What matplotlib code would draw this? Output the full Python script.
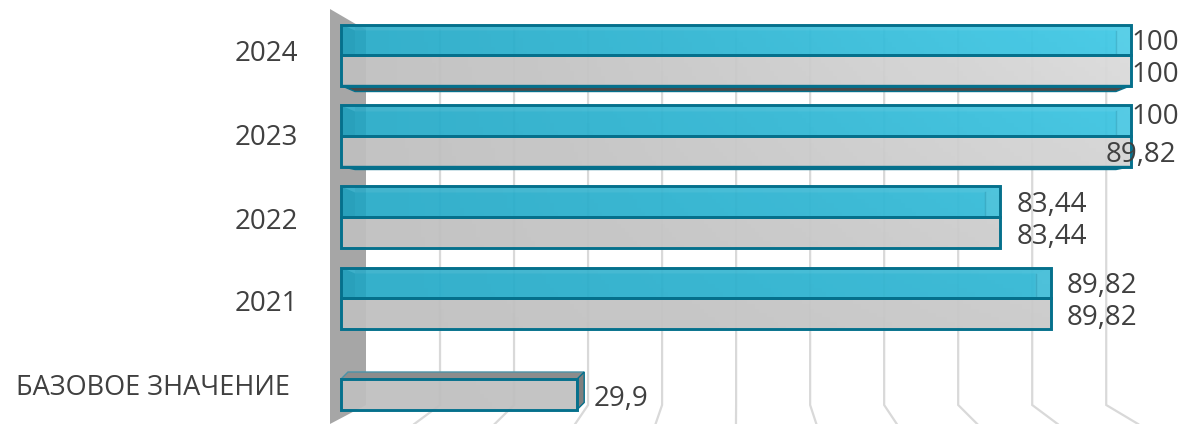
import numpy as np
from matplotlib import pyplot as plt
from matplotlib.colors import LinearSegmentedColormap
from matplotlib.patches import Polygon

categories = ['БАЗОВОЕ ЗНАЧЕНИЕ', '2021', '2022', '2023', '2024']
teal_values = [None, 89.82, 83.44, 100, 100]
gray_values = [29.9, 89.82, 83.44, 100, 100]
teal_labels = [None, '89,82', '83,44', '100', '100']
gray_labels = ['29,9', '89,82', '83,44', '89,82', '100']
grid_ticks = list(range(0, 101, 10))

plt.rcParams['font.family'] = ['Open Sans', 'DejaVu Sans']

WIDTH, HEIGHT = 1179, 424
PX = 100 / 790  # data units per pixel, x
PY = 1 / 81  # data units per pixel, y
BORDER = '#05708c'
TEXT = '#404040'

fig = plt.figure(figsize=(WIDTH / 100, HEIGHT / 100), dpi=100)
ax = fig.add_axes([0, 0, 1, 1])
ax.axis('off')
xlim = (-341 * PX, (WIDTH - 341) * PX)
ylim = ((379 - HEIGHT) * PY, 379 * PY)

# back wall and perspective grid
wall_bottom = -26 * PY
wall_top = 349 * PY
ax.add_patch(Polygon([(-11 * PX, ylim[0]), (25 * PX, wall_bottom), (25 * PX, wall_top),
                      (-11 * PX, 370 * PY)], color='#a6a6a6', lw=0, zorder=2))
for tick in grid_ticks[1:]:
    back = 25 * PX + tick * 0.937
    floor = back + (tick * 0.063 - 25 * PX) * 18 / 14
    ax.plot([back, back, floor], [wall_top, wall_bottom, ylim[0]], color='#d9d9d9',
            lw=1.6, zorder=1, solid_joinstyle='miter')

y = np.arange(len(categories))
height = 30.5 * PY
teal_y = [i + height / 2 for i, v in enumerate(teal_values) if v is not None]
teal_x = [v for v in teal_values if v is not None]
gray_y = y - height / 2

# bars are drawn by barh, then filled with the diagonal gradient
teal_bars = ax.barh(teal_y, teal_x, height=height, facecolor='none', edgecolor=BORDER,
                    lw=2.1, zorder=6)
gray_bars = ax.barh(gray_y, gray_values, height=height, facecolor='none', edgecolor=BORDER,
                    lw=2.1, zorder=6)

gx, gy = np.meshgrid(np.linspace(0, 1, 300), np.linspace(0, 1, 100))
shade = (np.clip((gx - 0.29) / 0.67, 0, 1) * (0.3 + 0.7 * gy)) ** 1.2
teal_map = LinearSegmentedColormap.from_list('teal', ['#27abc8', '#42cbe8'])
gray_map = LinearSegmentedColormap.from_list('gray', ['#bfbfbf', '#dedede'])
for bars, cmap in ((teal_bars, teal_map), (gray_bars, gray_map)):
    for bar in bars:
        im = ax.imshow(shade, cmap=cmap, origin='lower', aspect='auto', alpha=0.94,
                       extent=(xlim[0], xlim[1], ylim[0], ylim[1]), zorder=4)
        im.set_clip_path(bar)

# 3d details on the teal bars
for bar in teal_bars:
    left, bottom = bar.get_x(), bar.get_y()
    right, top = left + bar.get_width(), bottom + bar.get_height()
    inner = top - 6 * PY
    ax.add_patch(Polygon([(left, top), (right, top), (right - 15 * PX, inner), (left + 14 * PX, inner)],
                         color='white', alpha=0.07, lw=0, zorder=5))
    ax.add_patch(Polygon([(left, top), (left + 14 * PX, inner), (left + 14 * PX, bottom), (left, bottom)],
                         color='#0b6f8a', alpha=0.16, lw=0, zorder=5))
    ax.fill_between([left + 14 * PX, left + 25 * PX], bottom, top, color='#0b6f8a', alpha=0.07,
                    lw=0, zorder=5)
    ax.add_patch(Polygon([(right, top), (right - 15 * PX, inner), (right - 15 * PX, bottom), (right, bottom)],
                         color='white', alpha=0.08, lw=0, zorder=5))
    ax.plot([right - 15 * PX] * 2, [bottom, inner], color='#0b6f8a', alpha=0.25, lw=1, zorder=5)

# underside of the gray bars, only the top ones show it
for i, bar in enumerate(gray_bars):
    left, bottom = bar.get_x(), bar.get_y()
    right = left + bar.get_width()
    top = bottom + bar.get_height()
    if teal_values[i] is None:
        # base bar is seen from above
        ax.add_patch(Polygon([(left, top), (left + 7 * PX, top + 7 * PY), (right + 7 * PX, top + 7 * PY),
                              (right, top)], fc='#8c8c8c', ec='#4a93a8', lw=1, zorder=5))
        ax.add_patch(Polygon([(right, top), (right + 7 * PX, top + 7 * PY), (right + 7 * PX, bottom + 7 * PY),
                              (right, bottom)], fc='#7f7f7f', ec=BORDER, lw=1, zorder=5))
    elif i >= 3:
        depth = 6 if categories[i] == '2024' else 3
        ax.add_patch(Polygon([(left, bottom), (left + 14 * PX, bottom - depth * PY),
                              (right - 15 * PX, bottom - depth * PY), (right, bottom)],
                             fc='#4a4a4a', ec=BORDER, lw=1, zorder=5))

ax.set_xlim(xlim)
ax.set_ylim(ylim)

# category labels, spacing in the picture is not quite even
label_shift = [-9, -6, -5, -2, 1]
for i, name in enumerate(categories):
    if i == 0:
        ax.text(-51 * PX, i + label_shift[i] * PY, name, ha='right', va='center', fontsize=19.5,
                color=TEXT, zorder=8)
    else:
        ax.text(-43 * PX, i + label_shift[i] * PY, name, ha='right', va='center', fontsize=20,
                color=TEXT, zorder=8)

# value labels
for i, (label, value) in enumerate(zip(teal_labels, teal_values)):
    if label is None:
        continue
    off = 0 if value == 100 else 16
    dy = 4 if categories[i] == '2023' else -3
    ax.text(value + off * PX, i + height / 2 + dy * PY, label, ha='left', va='center',
            fontsize=20, color=TEXT, zorder=8)
for i, (label, value) in enumerate(zip(gray_labels, gray_values)):
    if categories[i] == '2023':
        ax.text(value + 45 * PX, i - height / 2 - 4 * PY, label, ha='right', va='center',
                fontsize=20, color=TEXT, zorder=8)
    else:
        off = 0 if value == 100 else 16
        ax.text(value + off * PX, i - height / 2 - 5 * PY, label, ha='left', va='center',
                fontsize=20, color=TEXT, zorder=8)

fig.savefig('out.png', dpi=100)
